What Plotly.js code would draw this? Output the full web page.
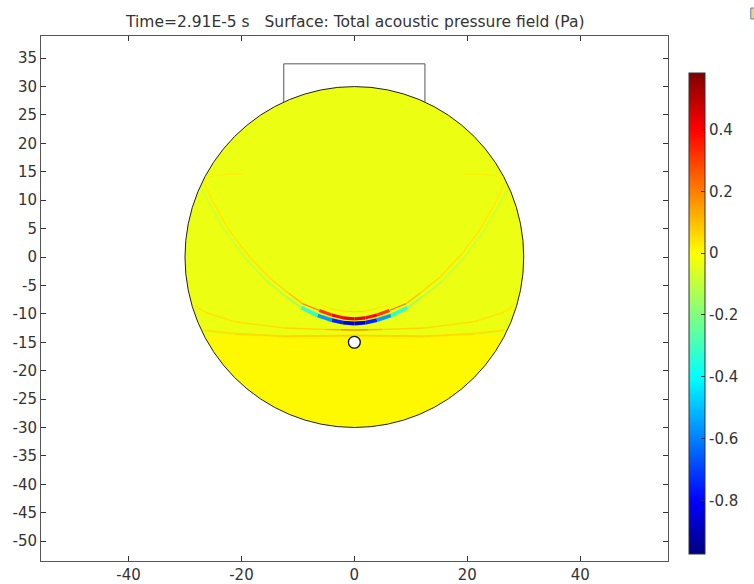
<!DOCTYPE html>
<html>
<head>
<meta charset="utf-8">
<script src="https://cdn.plot.ly/plotly-3.0.1.min.js"></script>
<style>
  html, body { margin: 0; padding: 0; background: #ffffff; }
  #chart { width: 754px; height: 584px; }
</style>
</head>
<body>
<div id="chart"></div>
<script>
// ---------- data ----------
const titleText = "Time=2.91E-5 s\u00a0\u00a0\u00a0Surface: Total acoustic pressure field (Pa)";

const xTickVals = [-40, -20, 0, 20, 40];
const xTickText = ["-40", "-20", "0", "20", "40"];
const yTickVals = [35, 30, 25, 20, 15, 10, 5, 0, -5, -10, -15, -20, -25, -30, -35, -40, -45, -50];
const yTickText = ["35", "30", "25", "20", "15", "10", "5", "0", "-5", "-10", "-15", "-20", "-25", "-30", "-35", "-40", "-45", "-50"];

const cbTickVals = [0.4, 0.2, 0, -0.2, -0.4, -0.6, -0.8];
const cbTickText = ["0.4", "0.2", "0", "-0.2", "-0.4", "-0.6", "-0.8"];
const pressureMin = -0.972;
const pressureMax = 0.584;

// domain geometry (mm)
const domainRadius = 30;
const holeCenter = [0, -15];
const holeRadius = 1.05;
const boxX = [-12.5, -12.5, 12.5, 12.5];
const boxY = [27.3, 34, 34, 27.3];

// background field: two bands (lower yellow, upper green-yellow)
const bgXEdges = [-30, 30];
const bgYEdges = [-30, -13.9, 30];
const bgValues = [[0.01], [-0.03]];

// wave front: trough (negative) line
const troughX = [-27.3, -25.7, -23.0, -19.5, -15.7, -12.0, -9.4, -6.5, -4.0, -2.0, 0.0, 2.0, 4.0, 6.5, 9.4, 12.0, 15.7, 19.5, 23.0, 25.7, 27.3];
const troughY = [12.4, 9.4, 4.7, 0.0, -4.1, -7.0, -8.9, -10.3, -11.1, -11.55, -11.7, -11.55, -11.1, -10.3, -8.9, -7.0, -4.1, 0.0, 4.7, 9.4, 12.4];
const troughV = [-0.07, -0.08, -0.08, -0.09, -0.1, -0.13, -0.22, -0.42, -0.68, -0.82, -0.88, -0.82, -0.68, -0.42, -0.22, -0.13, -0.1, -0.09, -0.08, -0.08, -0.07];

// wave front: crest (positive) line
const crestX = [-26.6, -25.1, -22.4, -18.9, -15.1, -11.6, -9.2, -6.2, -4.0, -2.0, 0.0, 2.0, 4.0, 6.2, 9.2, 11.6, 15.1, 18.9, 22.4, 25.1, 26.6];
const crestY = [13.0, 9.8, 5.0, 0.4, -3.6, -6.4, -8.2, -9.4, -10.2, -10.7, -10.9, -10.7, -10.2, -9.4, -8.2, -6.4, -3.6, 0.4, 5.0, 9.8, 13.0];
const crestV = [0.03, 0.03, 0.035, 0.04, 0.05, 0.07, 0.12, 0.26, 0.36, 0.42, 0.44, 0.42, 0.36, 0.26, 0.12, 0.07, 0.05, 0.04, 0.035, 0.03, 0.03];

// faint ripple above the crest
const rippleX = [-6.0, -4.0, -2.0, 0.0, 2.0, 4.0, 6.0];
const rippleY = [-8.4, -9.1, -9.5, -9.65, -9.5, -9.1, -8.4];
const rippleV = [0.03, 0.05, 0.06, 0.06, 0.06, 0.05, 0.03];

// reflected arc below the wave front (through the focus)
const lowerArcX = [-28.3, -26.5, -21.2, -12.4, -5.0, -2.4, 0.0, 2.4, 5.0, 12.4, 21.2, 26.5, 28.3];
const lowerArcY = [-8.5, -9.7, -11.4, -12.5, -12.75, -12.8, -12.85, -12.8, -12.75, -12.5, -11.4, -9.7, -8.5];
const lowerArcV = [0.03, 0.04, 0.045, 0.05, 0.08, 0.16, 0.22, 0.16, 0.08, 0.05, 0.045, 0.04, 0.03];

// orange band at the edge of the lower yellow region
const bandX = [-26.6, -21.2, -12.4, -2.4, 0.0, 2.4, 12.4, 21.2, 26.6];
const bandY = [-12.9, -13.5, -13.95, -13.85, -13.8, -13.85, -13.95, -13.5, -12.9];
const bandV = [0.04, 0.05, 0.06, 0.07, 0.07, 0.07, 0.06, 0.05, 0.04];

// faint reflections near the upper wall
const wallLeftX = [-27.4, -25.0, -22.4, -19.5];
const wallLeftY = [13.3, 14.3, 14.6, 14.6];
const wallRightX = [19.5, 22.4, 25.0, 27.4];
const wallRightY = [14.6, 14.6, 14.3, 13.3];
const wallV = [0.02, 0.03, 0.03, 0.02];

// ---------- colour scale ----------
const scaleStopVals = [-0.972, -0.8, -0.4, 0, 0.4, 0.584];
const scaleStopCols = [[0, 0, 127], [0, 0, 255], [0, 255, 255], [255, 255, 0], [255, 0, 0], [127, 0, 0]];
const colorscale = scaleStopVals.map((v, i) => [
  (v - pressureMin) / (pressureMax - pressureMin),
  'rgb(' + scaleStopCols[i].join(',') + ')'
]);
colorscale[0][0] = 0; colorscale[colorscale.length - 1][0] = 1;

function valueColor(v) {
  if (v <= scaleStopVals[0]) return 'rgb(' + scaleStopCols[0].join(',') + ')';
  for (let i = 1; i < scaleStopVals.length; i++) {
    if (v <= scaleStopVals[i]) {
      const t = (v - scaleStopVals[i - 1]) / (scaleStopVals[i] - scaleStopVals[i - 1]);
      const a = scaleStopCols[i - 1], b = scaleStopCols[i];
      const c = a.map((q, k) => Math.round(q + (b[k] - q) * t));
      return 'rgb(' + c.join(',') + ')';
    }
  }
  return 'rgb(' + scaleStopCols[scaleStopCols.length - 1].join(',') + ')';
}

const traces = [];
traces.push({
  type: 'heatmap',
  x: bgXEdges,
  y: bgYEdges,
  z: bgValues,
  zmin: pressureMin,
  zmax: pressureMax,
  colorscale: colorscale,
  zsmooth: false,
  hoverinfo: 'skip',
  colorbar: {
    thickness: 16,
    len: 0.916,
    lenmode: 'fraction',
    y: 0.0141,
    yanchor: 'bottom',
    x: 1.0318,
    xanchor: 'left',
    xpad: 0,
    ypad: 0,
    outlinewidth: 1,
    outlinecolor: '#333333',
    ticks: 'inside',
    ticklen: 4,
    tickcolor: '#333333',
    tickvals: cbTickVals,
    ticktext: cbTickText,
    tickfont: { family: 'DejaVu Sans', size: 15, color: '#333333' }
  }
});

function addLine(X, Y, V, strongWidth, weakWidth) {
  for (let i = 0; i < X.length - 1; i++) {
    const v = (V[i] + V[i + 1]) / 2;
    const w = Math.abs(v) > 0.25 ? strongWidth : weakWidth;
    traces.push({
      type: 'scatter', mode: 'lines',
      x: [X[i], X[i + 1]], y: [Y[i], Y[i + 1]],
      line: { color: valueColor(v), width: w },
      hoverinfo: 'skip', showlegend: false
    });
  }
}
addLine(bandX, bandY, bandV, 2, 2);
addLine(lowerArcX, lowerArcY, lowerArcV, 3, 1.6);
addLine(troughX, troughY, troughV, 3.8, 1.6);
addLine(crestX, crestY, crestV, 3.2, 1.4);
addLine(rippleX, rippleY, rippleV, 1, 1);
addLine(wallLeftX, wallLeftY, wallV, 1.2, 1.2);
addLine(wallRightX, wallRightY, wallV, 1.2, 1.2);

// ---------- shapes ----------
// white mask outside the circular domain (square minus circle, opposite winding)
let maskPath = 'M -33 -33 L 33 -33 L 33 33 L -33 33 Z ';
for (let k = 0; k <= 360; k++) {
  const a = -k * Math.PI / 180;
  const px = domainRadius * Math.cos(a), py = domainRadius * Math.sin(a);
  maskPath += (k === 0 ? 'M ' : 'L ') + px.toFixed(4) + ' ' + py.toFixed(4) + ' ';
}
maskPath += 'Z';

let boxPath = '';
for (let i = 0; i < boxX.length; i++) boxPath += (i === 0 ? 'M ' : 'L ') + boxX[i] + ' ' + boxY[i] + ' ';

const shapes = [
  { type: 'path', xref: 'x', yref: 'y', path: maskPath, fillcolor: '#ffffff', line: { width: 0 }, layer: 'above' },
  { type: 'circle', xref: 'x', yref: 'y', x0: -domainRadius, x1: domainRadius, y0: -domainRadius, y1: domainRadius,
    line: { color: '#222222', width: 1 }, fillcolor: 'rgba(0,0,0,0)', layer: 'above' },
  { type: 'circle', xref: 'x', yref: 'y', x0: holeCenter[0] - holeRadius, x1: holeCenter[0] + holeRadius,
    y0: holeCenter[1] - holeRadius, y1: holeCenter[1] + holeRadius,
    line: { color: '#111111', width: 1.3 }, fillcolor: '#ffffff', layer: 'above' },
  { type: 'path', xref: 'x', yref: 'y', path: boxPath, line: { color: '#555555', width: 1 }, layer: 'above' },
  { type: 'rect', xref: 'paper', yref: 'paper', x0: 1.132, x1: 1.16, y0: 1.0324, y1: 1.0533,
    line: { color: '#6a7fa8', width: 1 }, fillcolor: '#e8d87a', layer: 'above' }
];

const axisFont = { family: 'DejaVu Sans', size: 15, color: '#333333' };
const layout = {
  width: 754, height: 584,
  margin: { l: 41.3, r: 84.7, t: 36, b: 23.3, pad: 0 },
  paper_bgcolor: '#ffffff', plot_bgcolor: '#ffffff',
  showlegend: false,
  title: {
    text: titleText,
    font: { family: 'DejaVu Sans', size: 15.5, color: '#333333' },
    x: 0.4712, xref: 'container', xanchor: 'center',
    y: 0.963, yref: 'container', yanchor: 'middle'
  },
  xaxis: {
    range: [-55.5, 55.55], tickvals: xTickVals, ticktext: xTickText,
    ticks: 'inside', ticklen: 5, tickcolor: '#333333', tickwidth: 1,
    showline: true, linecolor: '#555555', linewidth: 1, mirror: 'allticks',
    showgrid: false, zeroline: false, tickfont: axisFont, fixedrange: true
  },
  yaxis: {
    range: [-53.5, 38.9], tickvals: yTickVals, ticktext: yTickText,
    ticks: 'inside', ticklen: 5, tickcolor: '#333333', tickwidth: 1,
    showline: true, linecolor: '#555555', linewidth: 1, mirror: 'allticks',
    showgrid: false, zeroline: false, tickfont: axisFont, fixedrange: true
  },
  shapes: shapes
};

Plotly.newPlot('chart', traces, layout, { displayModeBar: false, staticPlot: true });
</script>
</body>
</html>
